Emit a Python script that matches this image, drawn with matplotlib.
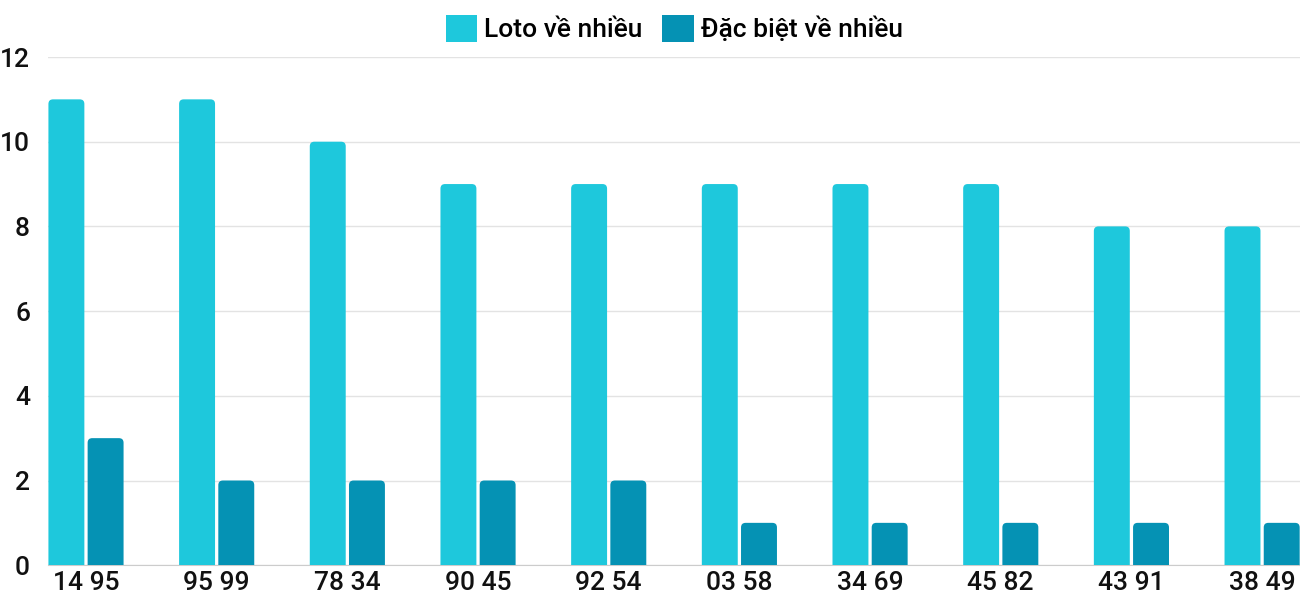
import matplotlib
matplotlib.use('Agg')
import matplotlib.pyplot as plt
from matplotlib.patches import FancyBboxPatch, Patch
import numpy as np

plt.rcParams['font.family'] = ['Roboto', 'DejaVu Sans']
plt.rcParams['font.weight'] = 'medium'

labels = ['14 95', '95 99', '78 34', '90 45', '92 54', '03 58', '34 69', '45 82', '43 91', '38 49']
loto = [11, 11, 10, 9, 9, 9, 9, 9, 8, 8]
dacbiet = [3, 2, 2, 2, 2, 1, 1, 1, 1, 1]
series_names = ['Loto về nhiều', 'Đặc biệt về nhiều']
colors = ['#1ec8dc', '#0592b4']


def rounded_bars(ax, xs, heights, width, color):
    # round top corners, bottom pushed below 0 and clipped by the axes
    for x, h in zip(xs, heights):
        p = FancyBboxPatch((x - width / 2, -0.5), width, h + 0.5,
                           boxstyle='round,pad=0,rounding_size=0.035',
                           mutation_aspect=3.1, fc=color, ec='none', zorder=3)
        ax.add_patch(p)


fig = plt.figure(figsize=(13, 6), dpi=100)
ax = fig.add_axes([0.037, 0.058, 0.963, 0.847])

x = np.arange(len(labels))
w = 0.275
rounded_bars(ax, x - 0.15, loto, w, colors[0])
rounded_bars(ax, x + 0.15, dacbiet, w, colors[1])

ax.set_xlim(-0.29, len(labels) - 1 + 0.29)
ax.set_ylim(0, 12)
ax.set_yticks(range(0, 13, 2))
ax.set_xticks(x)
ax.set_xticklabels(labels)
ax.tick_params(axis='both', length=0, labelsize=19, colors='#111111')
ax.tick_params(axis='y', pad=13)
ax.tick_params(axis='x', pad=4)
for lab in ax.get_yticklabels():
    lab.set_horizontalalignment('right')

ax.grid(axis='y', color='#e3e3e3', linewidth=1, zorder=0)
for s in ['top', 'right', 'left']:
    ax.spines[s].set_visible(False)
ax.spines['bottom'].set_color('#cccccc')

handles = [Patch(fc=c, ec='none') for c in colors]
ax.legend(handles, series_names, loc='center', bbox_to_anchor=(0.5, 1.056),
          ncol=2, frameon=False, fontsize=19, handlelength=1.2, handleheight=1.2,
          handletextpad=0.25, columnspacing=0.76)

fig.savefig('out.png', dpi=100)
